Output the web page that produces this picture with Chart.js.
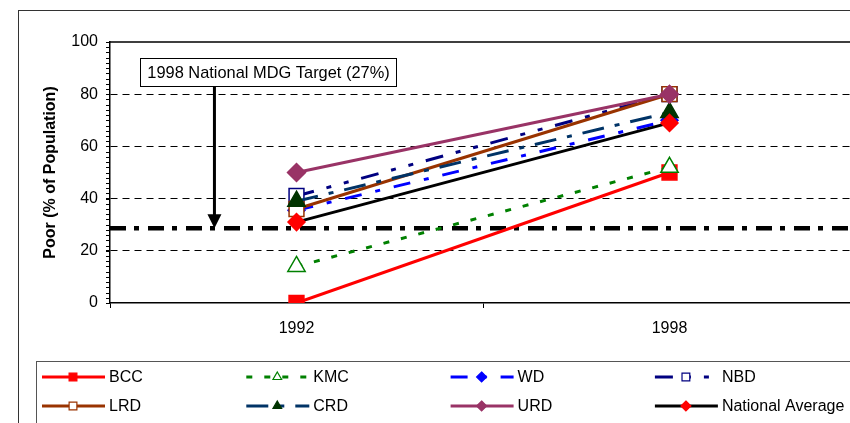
<!DOCTYPE html>
<html>
<head>
<meta charset="utf-8">
<script src="https://cdn.jsdelivr.net/npm/chart.js@4.4.1/dist/chart.umd.min.js"></script>
<style>
  html, body { margin: 0; padding: 0; background: #fff; overflow: hidden; }
  #wrap { position: relative; width: 870px; height: 423px; }
</style>
</head>
<body>
<div id="wrap"><canvas id="poverty"></canvas></div>
<script>
// values (% of population who are poor)
const years = ['1992', '1998'];
const bcc = [0, 50];
const kmc = [14, 52];
const wd = [35.5, 70];
const nbd = [41, 80];
const lrd = [36, 80];
const crd = [39, 73];
const urd = [50, 80];
const nationalAverage = [31, 69];
const mdgTarget = 28.6;
const mdgLabel = '1998 National MDG Target (27%)';
const yAxisTitle = 'Poor (% of Population)';

const FONT = "'Liberation Sans', Arial, sans-serif";

function series(label, data, color, dash, pointStyle, radius, fill, markerColor) {
    return {
        label: label,
        data: data,
        borderColor: color,
        borderWidth: 3,
        borderDash: dash,
        tension: 0,
        fill: false,
        pointStyle: pointStyle,
        pointRadius: radius,
        pointBackgroundColor: fill,
        pointBorderColor: markerColor || color,
        pointBorderWidth: 1.5
    };
}

const datasets = [
    series('BCC', bcc, '#ff0000', [], 'rect', 10.5, '#ff0000'),
    series('KMC', kmc, '#008000', [6, 12], 'triangle', 10, '#ffffff'),
    series('WD', wd, '#0000ff', [17, 14, 5, 14], 'rectRot', 8.5, '#0000ff'),
    series('NBD', nbd, '#000080', [18, 13, 5, 13, 5, 13], 'rect', 10.5, '#ffffff'),
    series('LRD', lrd, '#993300', [], 'rect', 10.5, '#ffffff'),
    series('CRD', crd, '#003366', [22, 11, 5, 11], 'triangle', 10, '#003300', '#003300'),
    series('URD', urd, '#993366', [], 'rectRot', 9, '#993366'),
    series('National Average', nationalAverage, '#000000', [], 'rectRot', 8.5, '#ff0000', '#ff0000')
];
// excel draws the last series on top
datasets.forEach((d, i) => { d.order = datasets.length - i; });

function marker(ctx, style, x, y, r) {
    ctx.beginPath();
    if (style === 'rect') {
        let s = r * Math.SQRT1_2;
        ctx.rect(x - s, y - s, 2 * s, 2 * s);
    } else if (style === 'rectRot') {
        ctx.moveTo(x, y - r);
        ctx.lineTo(x + r, y);
        ctx.lineTo(x, y + r);
        ctx.lineTo(x - r, y);
        ctx.closePath();
    } else {
        ctx.moveTo(x, y - r);
        ctx.lineTo(x + r * 0.866, y + r / 2);
        ctx.lineTo(x - r * 0.866, y + r / 2);
        ctx.closePath();
    }
    ctx.fill();
    ctx.stroke();
}

const decorations = {
    id: 'decorations',
    beforeDraw(chart) {
        const ctx = chart.ctx;
        ctx.save();
        ctx.strokeStyle = '#333';
        ctx.lineWidth = 1;
        ctx.strokeRect(18.5, 10.5, 900, 500);
        ctx.restore();
    },
    beforeDatasetsDraw(chart) {
        const ctx = chart.ctx, area = chart.chartArea, y = chart.scales.y;
        ctx.save();
        // minor ticks every 2 units
        ctx.strokeStyle = '#000';
        ctx.lineWidth = 1;
        for (let v = 0; v <= 100; v += 2) {
            let py = Math.round(y.getPixelForValue(v)) + 0.5;
            ctx.beginPath();
            ctx.moveTo(area.left - 4, py);
            ctx.lineTo(area.left, py);
            ctx.stroke();
        }
        // plot border on top
        ctx.lineWidth = 1.5;
        ctx.beginPath();
        ctx.moveTo(area.left, area.top);
        ctx.lineTo(area.right, area.top);
        ctx.lineTo(area.right, area.bottom);
        ctx.stroke();
        // MDG target line
        let ty = y.getPixelForValue(mdgTarget);
        ctx.lineWidth = 4.5;
        ctx.setLineDash([16, 8, 5, 9]);
        ctx.beginPath();
        ctx.moveTo(area.left, ty);
        ctx.lineTo(area.right, ty);
        ctx.stroke();
        ctx.restore();
    },
    afterDatasetsDraw(chart) {
        const ctx = chart.ctx, x = chart.scales.x, y = chart.scales.y;
        ctx.save();
        // annotation box
        ctx.font = '16.4px ' + FONT;
        let tw = ctx.measureText(mdgLabel).width;
        let bx = Math.round(x.getPixelForValue(-0.42)) + 0.5;
        let by = Math.round(y.getPixelForValue(94)) + 0.5;
        let bw = Math.round(tw + 14), bh = 28;
        ctx.fillStyle = '#fff';
        ctx.fillRect(bx, by, bw, bh);
        ctx.strokeStyle = '#000';
        ctx.lineWidth = 1;
        ctx.strokeRect(bx, by, bw, bh);
        ctx.fillStyle = '#000';
        ctx.textBaseline = 'middle';
        ctx.textAlign = 'center';
        ctx.fillText(mdgLabel, bx + bw / 2, by + bh / 2 + 1);
        // arrow down to the target line
        let ax = x.getPixelForValue(-0.22);
        let tip = y.getPixelForValue(mdgTarget);
        ctx.lineWidth = 3;
        ctx.beginPath();
        ctx.moveTo(ax, by + bh);
        ctx.lineTo(ax, tip - 12);
        ctx.stroke();
        ctx.beginPath();
        ctx.moveTo(ax - 7, tip - 14);
        ctx.lineTo(ax + 7, tip - 14);
        ctx.lineTo(ax, tip);
        ctx.closePath();
        ctx.fill();
        ctx.restore();
    },
    afterDraw(chart) {
        // legend, 4 columns x 2 rows
        const ctx = chart.ctx;
        ctx.save();
        ctx.strokeStyle = '#555';
        ctx.lineWidth = 1;
        ctx.strokeRect(36.5, 361.5, 900, 100);
        chart.data.datasets.forEach((d, i) => {
            let x0 = 42 + (i % 4) * 204.3;
            let yy = 377 + Math.floor(i / 4) * 29;
            ctx.strokeStyle = d.borderColor;
            ctx.lineWidth = 3;
            ctx.setLineDash(d.borderDash);
            ctx.beginPath();
            ctx.moveTo(x0, yy);
            ctx.lineTo(x0 + 63, yy);
            ctx.stroke();
            ctx.setLineDash([]);
            ctx.fillStyle = d.pointBackgroundColor;
            ctx.strokeStyle = d.pointBorderColor;
            ctx.lineWidth = 1.2;
            marker(ctx, d.pointStyle, x0 + 31, yy, d.pointStyle === 'rect' ? 5.5 : 5);
            ctx.fillStyle = '#000';
            ctx.font = '16px ' + FONT;
            ctx.textBaseline = 'middle';
            ctx.textAlign = 'left';
            ctx.fillText(d.label, x0 + 67, yy + 1);
        });
        ctx.restore();
    }
};

new Chart(document.getElementById('poverty'), {
    type: 'line',
    data: { labels: years, datasets: datasets },
    plugins: [decorations],
    options: {
        responsive: true,
        maintainAspectRatio: false,
        animation: false,
        devicePixelRatio: 1,
        layout: { padding: { top: 42, right: 14, left: 0, bottom: 0 } },
        plugins: { legend: { display: false }, tooltip: { enabled: false } },
        scales: {
            x: {
                type: 'category',
                offset: true,
                grid: { offset: true, drawOnChartArea: false, drawTicks: true, tickLength: 5, tickColor: '#000' },
                border: { color: '#000', width: 1.5 },
                ticks: { color: '#000', font: { family: FONT, size: 16 }, padding: 11, maxRotation: 0 },
                afterFit: s => { s.height = 120; }
            },
            y: {
                min: 0,
                max: 100,
                ticks: { stepSize: 20, color: '#000', font: { family: FONT, size: 16 }, padding: 8 },
                grid: {
                    color: c => (c.tick && (c.tick.value === 0 || c.tick.value === 100)) ? 'rgba(0,0,0,0)' : '#000',
                    lineWidth: 1,
                    tickLength: 4,
                    tickColor: '#000'
                },
                border: { color: '#000', width: 1.5, dash: [7, 5] },
                title: {
                    display: true,
                    text: yAxisTitle,
                    color: '#000',
                    font: { family: FONT, size: 16, weight: 'bold' },
                    padding: { top: 41, bottom: 0 }
                },
                afterFit: s => { s.width = 110; }
            }
        }
    }
});
</script>
</body>
</html>
